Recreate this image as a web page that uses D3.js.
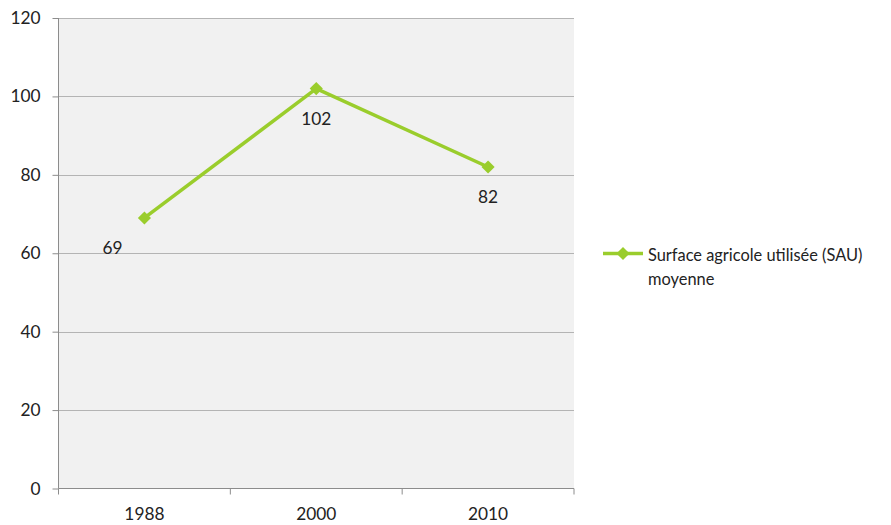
<!DOCTYPE html>
<html><head><meta charset="utf-8">
<script src="https://cdn.jsdelivr.net/npm/d3@7"></script>
<style>body{margin:0;background:#fff}svg{display:block}text{font-family:Lato,"Open Sans","Liberation Sans",sans-serif}</style>
</head><body><svg id="c" width="891" height="525"></svg>
<script>
const categories = ["1988","2000","2010"];
const values = [69,102,82];
const seriesName = ["Surface agricole utilisée (SAU)","moyenne"];
const yTicks = [0,20,40,60,80,100,120];

const FONT = 'Lato,"Open Sans","Liberation Sans",sans-serif';
const svg = d3.select("#c");
const L=58.5, R=574, T=18, B=488.5;
const x = d3.scaleBand().domain(categories).range([L,R]);
const y = d3.scaleLinear().domain([0,120]).range([B,T]);
const green = "#9ACD2C";
const txt = "#222";

svg.append("rect").attr("x",L).attr("y",T).attr("width",R-L).attr("height",B-T).attr("fill","#f1f1f1");
// gridlines
svg.append("g").selectAll("line").data(yTicks.filter(d=>d>0)).join("line")
  .attr("x1",L).attr("x2",R).attr("y1",d=>Math.round(y(d))+0.5).attr("y2",d=>Math.round(y(d))+0.5)
  .attr("stroke","#b4b4b4").attr("stroke-width",1);
// y axis
const ya = svg.append("g").attr("transform",`translate(${L},0)`)
  .call(d3.axisLeft(y).tickValues(yTicks).tickSize(6).tickPadding(12));
ya.select(".domain").attr("stroke","#8c8c8c").attr("d",`M0,${T}V${B}`);
ya.selectAll(".tick line").attr("stroke","#8c8c8c");
ya.selectAll(".tick text").attr("font-size",17.3).attr("fill",txt).attr("font-family",FONT);
// x axis
const xa = svg.append("g").attr("transform",`translate(0,${B})`)
  .call(d3.axisBottom(x).tickSize(0).tickPadding(19));
xa.select(".domain").attr("stroke","#8c8c8c").attr("d",`M${L},0H${R}`);
xa.selectAll(".tick text").attr("font-size",17.3).attr("fill",txt).attr("font-family",FONT);
const bounds = [L].concat(categories.map(c=>x(c)+x.bandwidth()));
svg.append("g").selectAll("line").data(bounds).join("line")
  .attr("x1",d=>d).attr("x2",d=>d).attr("y1",B).attr("y2",B+6).attr("stroke","#8c8c8c");

// line
const cx = c=>x(c)+x.bandwidth()/2;
const pts = categories.map((c,i)=>({c,v:values[i]}));
svg.append("path").datum(pts)
  .attr("d",d3.line().x(d=>cx(d.c)).y(d=>y(d.v)))
  .attr("fill","none").attr("stroke",green).attr("stroke-width",3.5).attr("stroke-linejoin","round");
const diamond = d3.symbol().type(d3.symbolDiamond2).size(110);
svg.append("g").selectAll("path").data(pts).join("path")
  .attr("transform",d=>`translate(${cx(d.c)},${y(d.v)})`).attr("d",diamond).attr("fill",green);
// labels
const labelDx = [-32,0,0];
svg.append("g").selectAll("text").data(pts).join("text")
  .attr("x",(d,i)=>cx(d.c)+labelDx[i]).attr("y",d=>y(d.v)+36)
  .attr("text-anchor","middle").attr("font-size",17.3).attr("fill",txt).text(d=>d.v);

// legend
const lg = svg.append("g");
lg.append("line").attr("x1",603).attr("x2",643).attr("y1",253.5).attr("y2",253.5).attr("stroke",green).attr("stroke-width",3.5);
lg.append("path").attr("transform","translate(623,253.5)").attr("d",diamond).attr("fill",green);
lg.selectAll("text").data(seriesName).join("text")
  .attr("x",648).attr("y",(d,i)=>261+i*24).attr("font-size",16.4).attr("fill",txt).text(d=>d);
</script></body></html>
